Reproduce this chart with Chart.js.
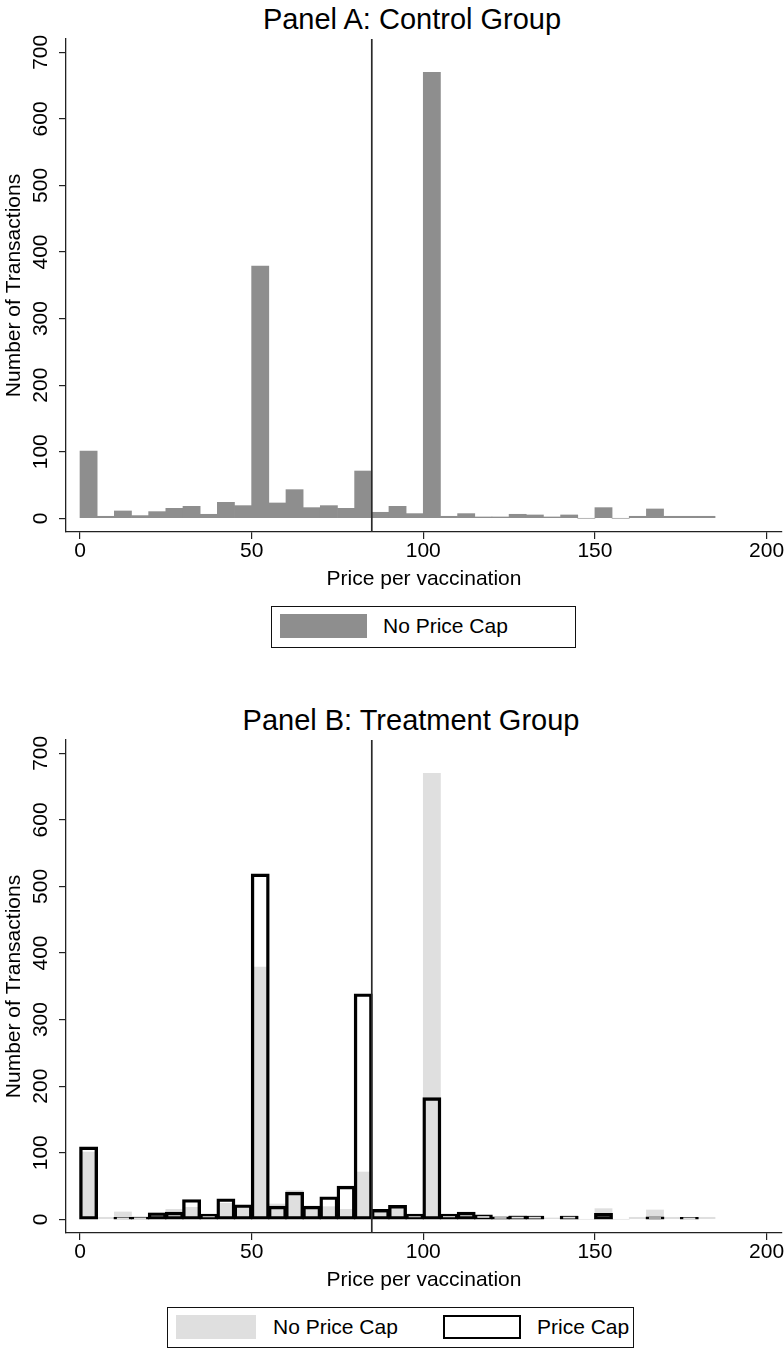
<!DOCTYPE html>
<html><head><meta charset="utf-8">
<script src="https://cdn.jsdelivr.net/npm/chart.js@4.4.1/dist/chart.umd.min.js"></script>
<style>
html,body{margin:0;padding:0;background:#fff;}
#page{position:relative;width:784px;height:1349px;overflow:hidden;font-family:"Liberation Sans",Arial,Helvetica,sans-serif;color:#000;}
.title{position:absolute;font-size:29px;line-height:34px;white-space:nowrap;transform:translateX(-50%);}
.cv{position:absolute;left:0;}
.legend{position:absolute;border:1.3px solid #111;box-sizing:border-box;}
.sw{position:absolute;box-sizing:border-box;}
.lt{position:absolute;font-size:21px;line-height:24px;white-space:nowrap;}
</style></head>
<body>
<div id="page">
  <div class="title" style="left:412px;top:2px;">Panel A: Control Group</div>
  <canvas id="chartA" class="cv" width="784" height="600" style="top:0px;"></canvas>
  <div class="legend" style="left:271px;top:606px;width:305px;height:42px;"></div>
  <div class="sw" style="left:280px;top:614px;width:87px;height:24px;background:#8e8e8e;"></div>
  <div class="lt" style="left:383px;top:614px;">No Price Cap</div>

  <div class="title" style="left:411px;top:703px;">Panel B: Treatment Group</div>
  <canvas id="chartB" class="cv" width="784" height="600" style="top:701px;"></canvas>
  <div class="legend" style="left:167px;top:1307px;width:467px;height:41px;"></div>
  <div class="sw" style="left:176px;top:1315px;width:80px;height:24px;background:#dfdfdf;"></div>
  <div class="lt" style="left:273px;top:1315px;">No Price Cap</div>
  <div class="sw" style="left:443px;top:1315px;width:78px;height:24px;background:#fff;border:2px solid #000;"></div>
  <div class="lt" style="left:537px;top:1315px;">Price Cap</div>
</div>
<script>
// ---- data ----
const binStarts = [0,5,10,15,20,25,30,35,40,45,50,55,60,65,70,75,80,85,90,95,100,105,110,115,120,125,130,135,140,145,150,155,160,165,170,175,180];
const binWidth = 5;
const noCapCounts = [101,3,11,4,10,15,18,6,24,19,379,23,43,16,19,15,71,9,18,7,670,3,7,2,2,6,5,2,5,0,16,0,3,14,3,3,3];
const capCounts   = [108,0,2,2,9,10,29,7,30,21,518,19,40,19,33,49,338,14,20,7,182,7,10,6,3,4,4,0,4,0,8,0,0,3,0,2,0];
const xTickValues = [0,50,100,150,200];
const yTickValues = [0,100,200,300,400,500,600,700];
const capLine = 85;
const xRange = [-4.08, 204.5];
const yRange = [-20.6, 720];

const FONT = '"Liberation Sans", Arial, Helvetica, sans-serif';
Chart.defaults.font.family = FONT;
Chart.defaults.color = '#000';

function points(counts){ return binStarts.map((b,i)=>({x:b+binWidth/2, y:counts[i]})); }

const refLinePlugin = {
  id:'refLine',
  afterDatasetsDraw(chart){
    const {ctx, chartArea, scales:{x}} = chart;
    const px = x.getPixelForValue(capLine);
    ctx.save();
    ctx.strokeStyle = '#2a2a2a'; ctx.lineWidth = 1.7;
    ctx.beginPath(); ctx.moveTo(px, chartArea.top); ctx.lineTo(px, chartArea.bottom); ctx.stroke();
    ctx.restore();
  }
};
const yLabelPlugin = {
  id:'yLabels',
  afterDraw(chart){
    const {ctx, scales:{y}} = chart;
    ctx.save();
    ctx.font = '21px ' + FONT; ctx.fillStyle = '#000';
    ctx.textAlign = 'center'; ctx.textBaseline = 'middle';
    y.ticks.forEach(t=>{
      const py = y.getPixelForValue(t.value);
      ctx.save(); ctx.translate(41, py); ctx.rotate(-Math.PI/2);
      ctx.fillText(String(t.value), 0, 0);
      ctx.restore();
    });
    ctx.restore();
  }
};

function scaleOpts(){
  const gridOpts = {display:true, drawOnChartArea:false, drawTicks:true, tickLength:7, color:'#222', lineWidth:1.2, offset:false};
  const borderOpts = {display:true, color:'#222', width:1.3};
  return {
    x:{type:'linear', min:xRange[0], max:xRange[1], offset:false,
       afterBuildTicks:s=>{ s.ticks = xTickValues.map(v=>({value:v})); },
       afterFit:s=>{ s.height = 60; s.paddingLeft = 0; s.paddingRight = 0; },
       grid:gridOpts, border:borderOpts,
       ticks:{padding:0, color:'#000', font:{size:21}, maxRotation:0, autoSkip:false},
       title:{display:true, text:'Price per vaccination', color:'#000', font:{size:21}, padding:{top:0,bottom:0}}},
    y:{type:'linear', min:yRange[0], max:yRange[1],
       afterBuildTicks:s=>{ s.ticks = yTickValues.map(v=>({value:v})); },
       afterFit:s=>{ s.width = 66; s.paddingTop = 0; s.paddingBottom = 0; },
       grid:gridOpts, border:borderOpts,
       ticks:{display:false},
       title:{display:true, text:'Number of Transactions', color:'#000', font:{size:21}, padding:{top:2,bottom:0}}}
  };
}
function baseOptions(){
  return {
    responsive:false, animation:false, devicePixelRatio:1,
    layout:{padding:{top:39, left:0, right:2, bottom:8}},
    plugins:{legend:{display:false}, title:{display:false}, tooltip:{enabled:false}},
    scales:scaleOpts()
  };
}

new Chart(document.getElementById('chartA'), {
  type:'bar',
  data:{datasets:[{label:'No Price Cap', data:points(noCapCounts), backgroundColor:'#8e8e8e', borderWidth:0,
                   barPercentage:1, categoryPercentage:1}]},
  options:baseOptions(),
  plugins:[refLinePlugin, yLabelPlugin]
});

new Chart(document.getElementById('chartB'), {
  type:'bar',
  data:{datasets:[
    {label:'No Price Cap', data:points(noCapCounts), backgroundColor:'#dfdfdf', borderWidth:0,
     grouped:false, barPercentage:1, categoryPercentage:1, order:2},
    {label:'Price Cap', data:points(capCounts), backgroundColor:'rgba(0,0,0,0)', borderColor:'#000', borderWidth:1.7,
     borderSkipped:false, inflateAmount:0.85, grouped:false, barPercentage:1, categoryPercentage:1, order:1}
  ]},
  options:baseOptions(),
  plugins:[refLinePlugin, yLabelPlugin]
});
</script>
</body></html>
